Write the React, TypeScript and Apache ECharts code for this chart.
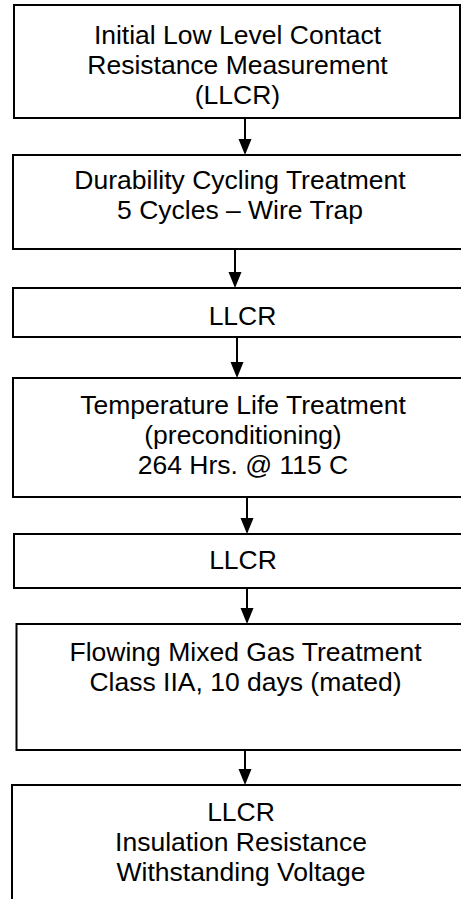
import React, { useEffect, useRef } from "react";
import * as echarts from "echarts";

// Flowchart content (text only)
const stepLines: string[][] = [
  ["Initial Low Level Contact", "Resistance Measurement", "(LLCR)"],
  ["Durability Cycling Treatment", "5 Cycles \u2013 Wire Trap"],
  ["LLCR"],
  ["Temperature Life Treatment", "(preconditioning)", "264 Hrs. @ 115 C"],
  ["LLCR"],
  ["Flowing Mixed Gas Treatment", "Class IIA, 10 days (mated)"],
  ["LLCR", "Insulation Resistance", "Withstanding Voltage"],
];

// Layout (positions / sizes), kept separate from content
const boxLayout = [
  { x: 14, y: 5, r: 460, b: 118, cx: 237.5, ty: 35 },
  { x: 13, y: 155, r: 470, b: 249, cx: 240, ty: 180 },
  { x: 13, y: 288, r: 470, b: 337, cx: 242.5, ty: 316 },
  { x: 13, y: 378, r: 470, b: 497, cx: 243, ty: 405 },
  { x: 14, y: 534, r: 470, b: 588, cx: 243, ty: 560 },
  { x: 16.5, y: 624, r: 470, b: 750, cx: 245.5, ty: 652 },
  { x: 12, y: 785, r: 470, b: 920, cx: 241, ty: 812 },
];
const arrowX = [245, 235, 237, 247, 247, 245];
const LINE_H = 30;
const FONT = '26.5px "Liberation Sans", Arial, sans-serif';

export default function App() {
  const ref = useRef<HTMLDivElement>(null);
  useEffect(() => {
    if (!ref.current) return;
    const chart = echarts.init(ref.current, undefined, { renderer: "svg" });
    const elements: any[] = [];
    boxLayout.forEach((b, i) => {
      elements.push({
        type: "rect",
        shape: { x: b.x, y: b.y, width: b.r - b.x, height: b.b - b.y },
        style: { fill: "#fff", stroke: "#000", lineWidth: 2 },
        z: 1,
      });
      stepLines[i].forEach((t, j) => {
        elements.push({
          type: "text",
          x: b.cx,
          y: b.ty + j * LINE_H,
          style: {
            text: t,
            font: FONT,
            fill: "#000",
            textAlign: "center",
            textVerticalAlign: "middle",
          },
          z: 3,
        });
      });
    });
    arrowX.forEach((ax, i) => {
      const from = boxLayout[i].b;
      const to = boxLayout[i + 1].y;
      const headH = 16;
      const headW = 13;
      elements.push({
        type: "line",
        shape: { x1: ax, y1: from, x2: ax, y2: to - headH + 1 },
        style: { stroke: "#000", lineWidth: 2 },
        z: 2,
      });
      elements.push({
        type: "polygon",
        shape: {
          points: [
            [ax - headW / 2, to - headH],
            [ax + headW / 2, to - headH],
            [ax, to],
          ],
        },
        style: { fill: "#000" },
        z: 2,
      });
    });
    chart.setOption({
      animation: false,
      backgroundColor: "#fff",
      graphic: { elements },
    });
    return () => chart.dispose();
  }, []);
  return (
    <div
      ref={ref}
      style={{ position: "fixed", left: 0, top: 0, width: 461, height: 899 }}
    />
  );
}
